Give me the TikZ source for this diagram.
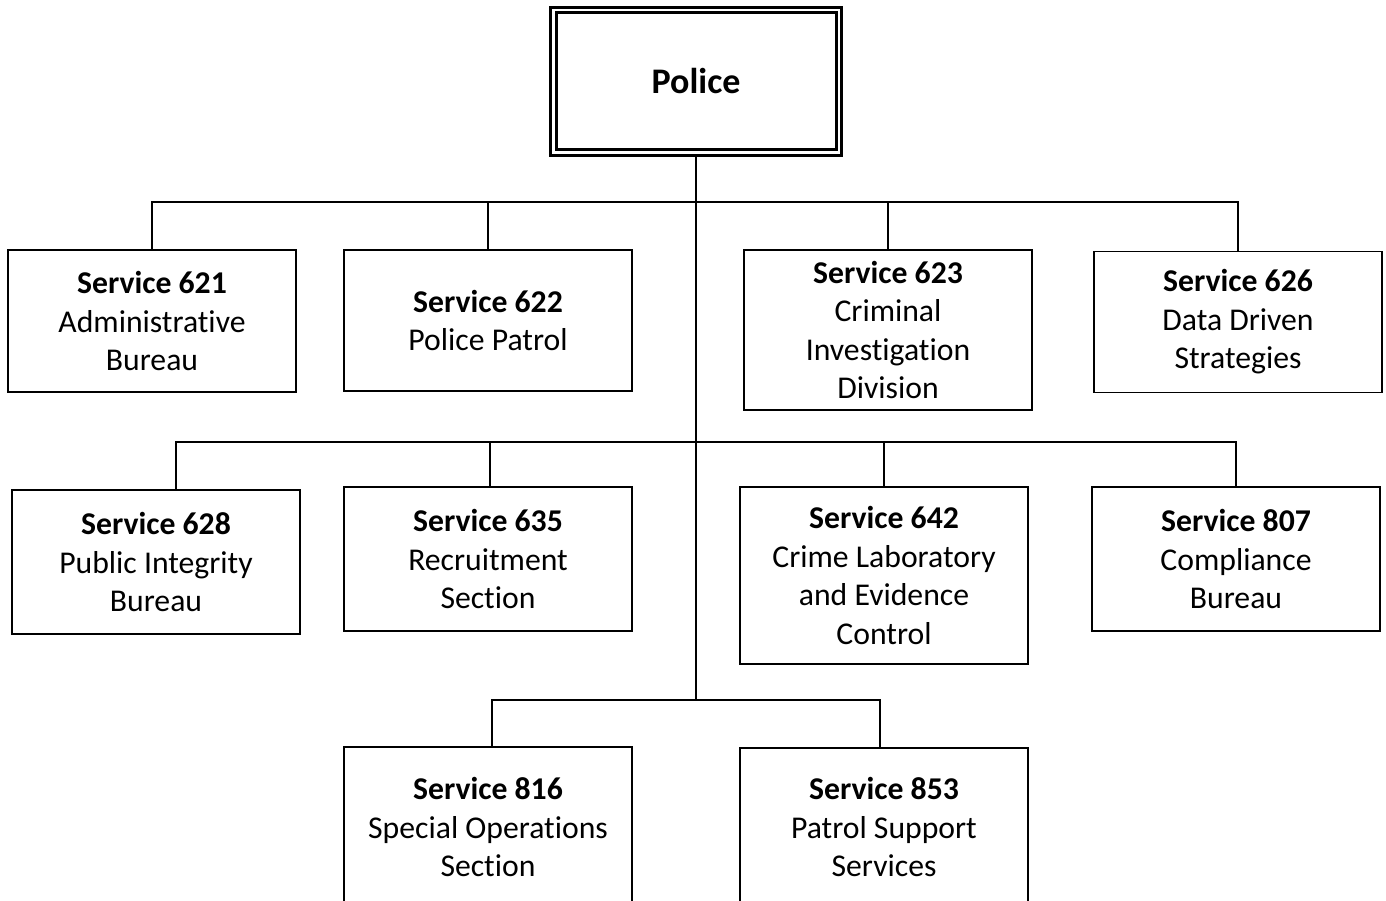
\documentclass[tikz,border=0pt]{standalone}
\usepackage{fontspec}
\setmainfont{Carlito}[Ligatures={NoCommon,NoRequired,NoContextual}]
\usetikzlibrary{positioning}

\begin{document}
\begin{tikzpicture}[
    x=1pt, y=-1pt,
    unit/.style={draw, line width=1.8pt, minimum width=288, inner sep=0pt,
                 align=center, font=\fontsize{31.7}{38.5}\selectfont},
    head/.style={draw, double, line width=3pt, double distance=2.5pt,
                 minimum width=285.5, minimum height=142.5, inner sep=0pt,
                 font=\fontsize{36}{42}\selectfont\bfseries},
    link/.style={line width=1.8pt}
]

% Page frame (bottom row is cut off)
\clip (0,0) rectangle (1386,901);

% Top box
\node[head] (police) at (696,81.5) {Police};

% First row
\node[unit, minimum height=142] (s621) at (152,321) {\textbf{Service 621}\\Administrative\\Bureau};
\node[unit, minimum height=141] (s622) at (488,320.5) {\textbf{Service 622}\\Police Patrol};
\node[unit, minimum height=160] (s623) at (888,330) {\textbf{Service 623}\\Criminal\\Investigation\\Division};
\node[unit, minimum height=141] (s626) at (1238,322) {\textbf{Service 626}\\Data Driven\\Strategies};

% Second row
\node[unit, minimum height=144] (s628) at (156,562) {\textbf{Service 628}\\Public Integrity\\Bureau};
\node[unit, minimum height=144] (s635) at (488,559) {\textbf{Service 635}\\Recruitment\\Section};
\node[unit, minimum height=177] (s642) at (884,575.5) {\textbf{Service 642}\\Crime Laboratory\\and Evidence\\Control};
\node[unit, minimum height=144] (s807) at (1236,559) {\textbf{Service 807}\\Compliance\\Bureau};

% Third row
\node[unit, minimum height=160] (s816) at (488,827) {\textbf{Service 816}\\Special Operations\\Section};
\node[unit, minimum height=158] (s853) at (884,827) {\textbf{Service 853}\\Patrol Support\\Services};

% Buses
\coordinate (bus1) at (696,202);
\coordinate (bus2) at (696,442);
\coordinate (bus3) at (696,700);

\draw[link] (police.south) -- (bus3);

\draw[link] (s621.north) |- (bus1) -| (s626.north);
\draw[link] (s622.north) |- (bus1);
\draw[link] (s623.north) |- (bus1);

\draw[link] ([xshift=20pt]s628.north) |- (bus2) -| (s807.north);
\draw[link] ([xshift=2pt]s635.north) |- (bus2);
\draw[link] (s642.north) |- (bus2);

\draw[link] ([xshift=4pt]s816.north) |- (bus3) -| ([xshift=-4pt]s853.north);

\end{tikzpicture}
\end{document}
